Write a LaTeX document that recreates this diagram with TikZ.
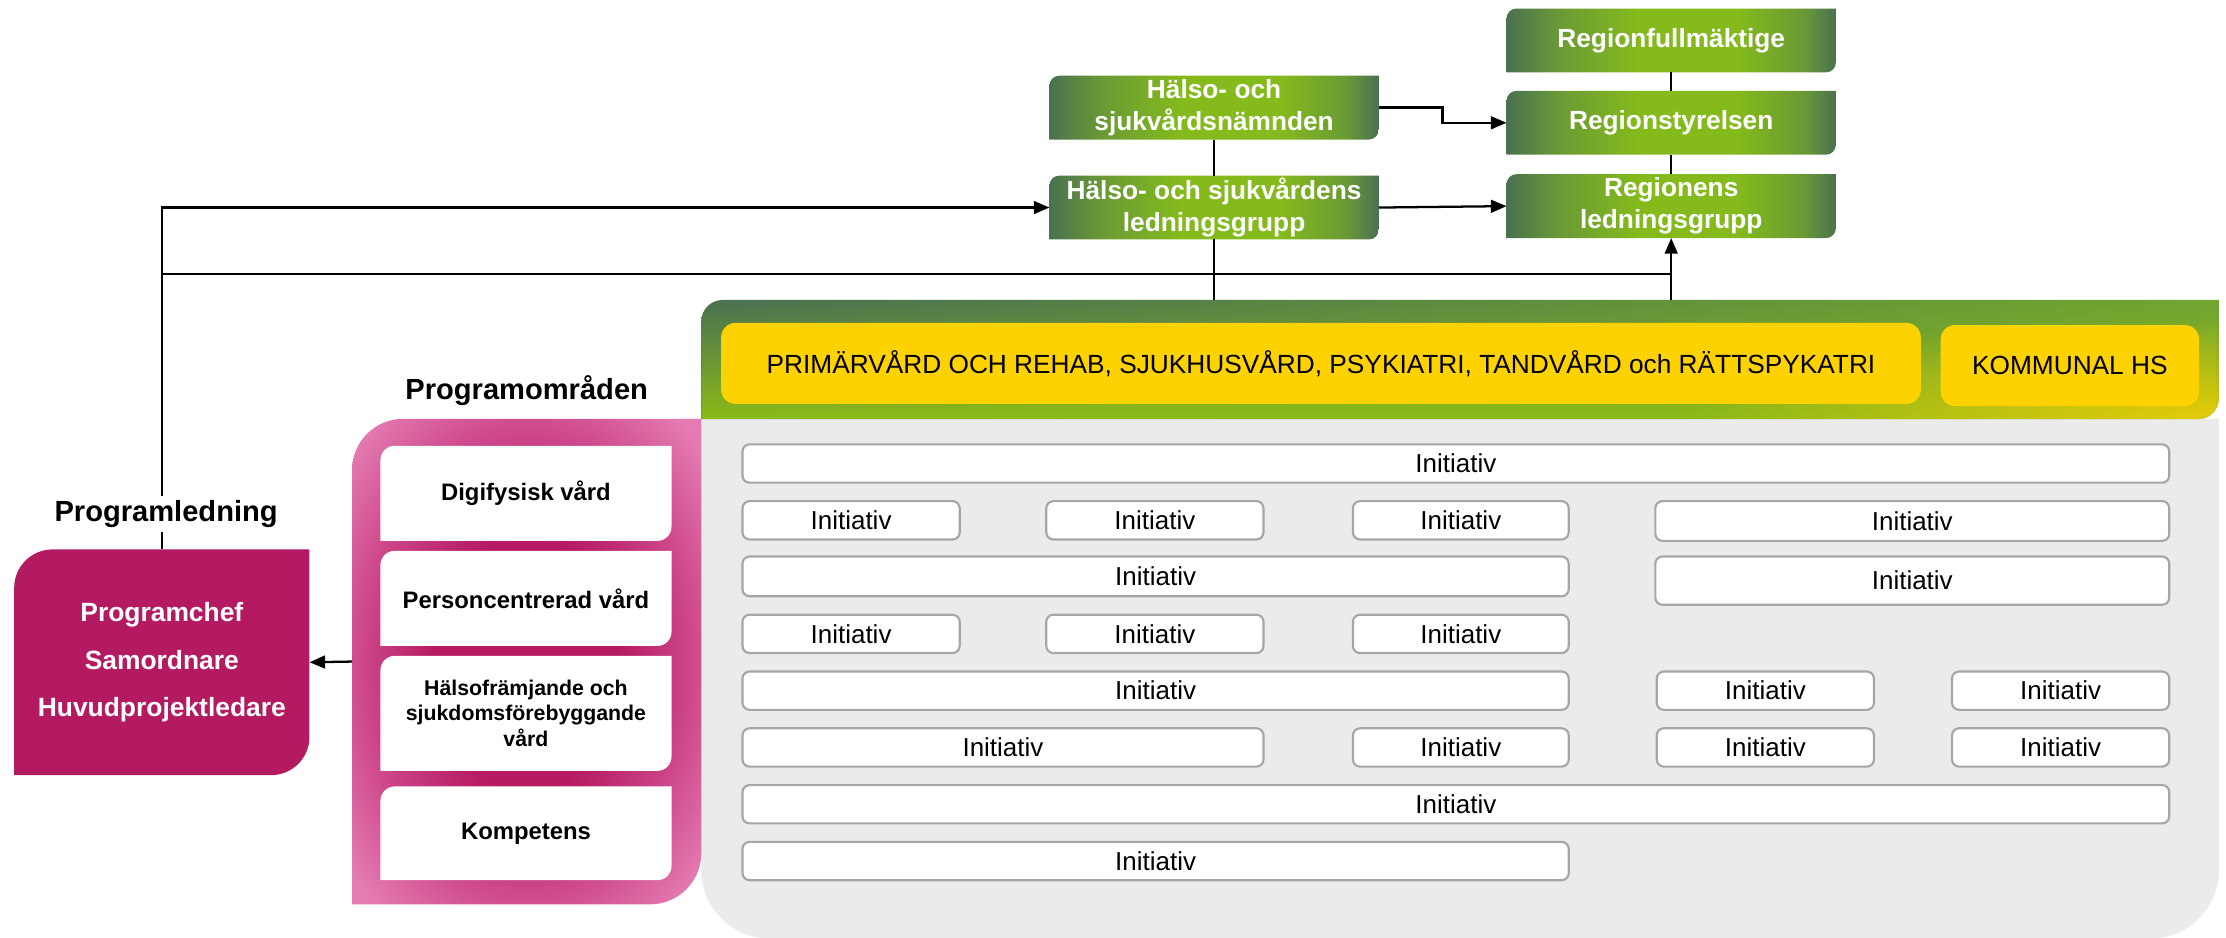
\documentclass[tikz,border=0pt]{standalone}
\usepackage{fontspec}
\setmainfont{Liberation Sans}
\usetikzlibrary{arrows.meta,fadings}
\definecolor{gdark}{HTML}{4A7150}
\definecolor{gmid}{HTML}{6A9A35}
\definecolor{glight}{HTML}{84BA1C}
\definecolor{hA}{HTML}{4A7052}
\definecolor{hR}{HTML}{72A530}
\definecolor{hB}{HTML}{8BBB19}
\definecolor{hY}{HTML}{E6CB08}
\definecolor{ylw}{HTML}{FDD200}
\definecolor{mag}{HTML}{B41A62}
\definecolor{pinkL}{HTML}{E47BB2}
\definecolor{pinkM}{HTML}{CC4488}
\definecolor{pinkD}{HTML}{B51A62}
\definecolor{greyp}{HTML}{EBEBEB}
\definecolor{inib}{HTML}{A6A6A6}
\pgfdeclarehorizontalshading{gshade}{100bp}{color(0bp)=(gdark); color(25bp)=(gdark); color(33bp)=(gmid); color(45bp)=(glight); color(60bp)=(glight); color(70bp)=(gmid); color(75bp)=(gdark); color(100bp)=(gdark)}
\pgfdeclareradialshading{pinkrad}{\pgfpoint{0bp}{0bp}}{color(0bp)=(pinkD); color(13bp)=(pinkD); color(23bp)=(pinkM); color(33bp)=(pinkL); color(50bp)=(pinkL)}
\pgfdeclarelayer{bgA}
\pgfdeclarelayer{bgB}
\pgfsetlayers{bgA,bgB,main}
\tikzfading[name=glow, inner color=transparent!0, outer color=transparent!100]
\tikzfading[name=upfade, top color=transparent!100, bottom color=transparent!0]
\newcommand\diagpath[2]{[rounded corners=#2pt] (#1.north west) rectangle (#1.south east) [sharp corners] ([xshift=-#2pt]#1.north east) rectangle ([yshift=-#2pt]#1.north east) ([yshift=#2pt]#1.south west) rectangle ([xshift=#2pt]#1.south west)}
\newcommand\ini[5]{\node[ibox, minimum width={#3-#2}, minimum height={#5-#4}] (#1) at ({(#2+#3)/2},{(#4+#5)/2}) {Initiativ};}
\begin{document}
\begin{tikzpicture}[x=1pt,y=-1pt,
  gbox/.style={minimum width=232pt, minimum height=45pt, inner sep=0pt, outer sep=0pt, text=white, align=center, font=\bfseries\fontsize{18.5}{22.5}\selectfont},
  pbox/.style={minimum width=205pt, inner sep=0pt, outer sep=0pt, align=center, font=\bfseries\fontsize{16.8}{20}\selectfont},
  ybox/.style={fill=ylw, rounded corners=10pt, inner sep=0pt, outer sep=0pt, minimum height=57pt, font=\fontsize{18.5}{22}\selectfont},
  ibox/.style={draw=inib, line width=1.5pt, fill=white, rounded corners=5pt, inner sep=0pt, outer sep=0pt, font=\fontsize{18.3}{22}\selectfont},
  ttl/.style={font=\bfseries\fontsize{20.5}{24}\selectfont},
  arr/.style={line width=1.6pt, -{Triangle[length=11pt,width=9pt]}},
  ln/.style={line width=1.1pt}]
\useasboundingbox (0,0) rectangle (1568,660.7);

% green boxes
\node[gbox] (rf) at (1177.2,28.5) {Regionfullmäktige};
\node[gbox] (rs) at (1177.2,86.5) {Regionstyrelsen};
\node[gbox] (rl) at (1177.2,145.2) {Regionens\\ledningsgrupp};
\node[gbox] (hsn) at (855.2,75.8) {Hälso- och\\sjukvårdsnämnden};
\node[gbox] (hsl) at (855.2,146.2) {Hälso- och sjukvårdens\\ledningsgrupp};

% header and yellow boxes
\node[minimum width=1069pt, minimum height=84pt, inner sep=0pt, outer sep=0pt] (hdr) at (1028.5,253.3) {};
\node[ybox, minimum width=845pt] (y1) at (930.5,256) {PRIMÄRVÅRD OCH REHAB, SJUKHUSVÅRD, PSYKIATRI, TANDVÅRD och RÄTTSPYKATRI};
\node[ybox, minimum width=182pt] (y2) at (1458,257.5) {KOMMUNAL HS};

% magenta and pink
\node[minimum width=208pt, minimum height=159pt, inner sep=0pt, outer sep=0pt, text=white, align=center, font=\bfseries\fontsize{18.6}{33.6}\selectfont] (pc) at (114,466.5) {Programchef\\Samordnare\\Huvudprojektledare};
\node[minimum width=246pt, minimum height=342pt, inner sep=0pt, outer sep=0pt] (pp) at (371,466) {};
\node[pbox, minimum height=67pt] (d1) at (370.5,347.5) {Digifysisk vård};
\node[pbox, minimum height=67pt] (d2) at (370.5,421.5) {Personcentrerad vård};
\node[pbox, minimum height=81pt, font=\bfseries\fontsize{15}{18.1}\selectfont] (d3) at (370.5,502.5) {Hälsofrämjande och\\sjukdomsförebyggande\\vård};
\node[pbox, minimum height=66pt] (d4) at (370.5,587) {Kompetens};

% Initiativ boxes
\ini{i1}{523}{1528}{313}{340}
\ini{i2a}{523}{676}{353}{380}
\ini{i2b}{737}{890}{353}{380}
\ini{i2c}{953}{1105}{353}{380}
\ini{i2d}{1166}{1528}{353}{381}
\ini{i3a}{523}{1105}{392}{420}
\ini{i3b}{1166}{1528}{392}{426}
\ini{i4a}{523}{676}{433}{460}
\ini{i4b}{737}{890}{433}{460}
\ini{i4c}{953}{1105}{433}{460}
\ini{i5a}{523}{1105}{473}{500}
\ini{i5b}{1167}{1320}{473}{500}
\ini{i5c}{1375}{1528}{473}{500}
\ini{i6a}{523}{890}{513}{540}
\ini{i6b}{953}{1105}{513}{540}
\ini{i6c}{1167}{1320}{513}{540}
\ini{i6d}{1375}{1528}{513}{540}
\ini{i7}{523}{1528}{553}{580}
\ini{i8}{523}{1105}{593}{620}

% backgrounds
\begin{pgfonlayer}{bgA}
  \fill[greyp] [rounded corners=48pt] (494,295) rectangle (1563,661) [sharp corners] (494,295) rectangle (1563,400);
  \path[left color=hA, right color=hR] \diagpath{hdr}{15};
  \begin{scope}
    \clip \diagpath{hdr}{15};
    \fill[hB, path fading=upfade] (hdr.north west) rectangle (hdr.south east);
    \fill[hY, path fading=glow] (hdr.south east) ellipse [x radius=380pt, y radius=70pt];
  \end{scope}
  \path[shading=gshade] \diagpath{rf}{7};
  \path[shading=gshade] \diagpath{rs}{7};
  \path[shading=gshade] \diagpath{rl}{7};
  \path[shading=gshade] \diagpath{hsn}{7};
  \path[shading=gshade] \diagpath{hsl}{7};
  \fill[mag] \diagpath{pc}{27};
  \path[shading=pinkrad] \diagpath{pp}{36};
\end{pgfonlayer}
\begin{pgfonlayer}{bgB}
  \fill[white] \diagpath{d1}{10};
  \fill[white] \diagpath{d2}{10};
  \fill[white] \diagpath{d3}{10};
  \fill[white] \diagpath{d4}{10};
\end{pgfonlayer}

% connectors
\coordinate (bend) at (1016,0);
\coordinate (jn) at (1177.2,193);
\draw[ln] (rf.south) -- (rs.north);
\draw[ln] (rs.south) -- (rl.north);
\draw[ln] (hsn.south) -- (hsl.north);
\draw[ln] (hsl.south) -- (hsl.south |- hdr.north);
\draw[ln] (hdr.north -| jn) -- (jn);
\draw[arr] (hsn.east) -- (hsn.east -| bend) |- (rs.west);
\draw[arr] (hsl.east) -- (rl.west);
\draw[arr] (pc.north) |- (hsl.west);
\draw[arr] (pc.north |- jn) -| (rl.south);
\draw[arr] (pp.west) -- (pc.east);

% titles
\node[ttl, fill=white, inner sep=3pt] (plab) at (117,362) {Programledning};
\node[ttl] (polab) at (371,275) {Programområden};
\end{tikzpicture}
\end{document}
